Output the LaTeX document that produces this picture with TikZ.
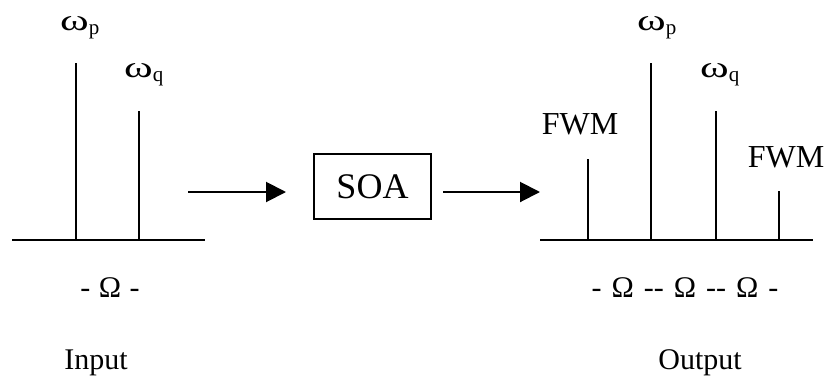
\documentclass[tikz,border=0pt]{standalone}
\usepackage{fontspec}
\setmainfont{Liberation Serif}
\usetikzlibrary{arrows.meta}
\newcommand{\bigom}{\scalebox{1.45}[1.0]{ω}}
\newcommand{\gp}{\hspace{10pt}}
\begin{document}
\begin{tikzpicture}[x=1pt,y=-1pt,
  axis/.style={line width=2.2pt},
  stem/.style={line width=2.4pt},
  lbl/.style={inner sep=0pt,font=\fontsize{30}{36}\selectfont},
  fwm/.style={inner sep=0pt,font=\fontsize{32}{38}\selectfont},
  omg/.style={inner sep=0pt,font=\fontsize{30}{36}\selectfont},
  flow/.style={line width=2pt,-{Triangle[length=20pt,width=20pt]}},
  box/.style={draw,line width=1.8pt,minimum width=117pt,minimum height=65pt,inner sep=0pt,font=\fontsize{36}{42}\selectfont}]
\useasboundingbox (0,0) rectangle (827,381);
% input spectrum
\draw[axis] (12,240) -- (205,240);
\draw[stem] (76,240) -- (76,63);
\draw[stem] (139,240) -- (139,111);
\node[omg] (ip) at (80,28) {\bigom\textsubscript{p}};
\node[omg] (iq) at (144,75) {\bigom\textsubscript{q}};
\node[lbl] (iom) at (110,288) {-\hspace{8.5pt}Ω\hspace{8.5pt}-};
\node[lbl] (in) at (96,363) {Input};
% SOA
\node[box] (soa) at (372.5,186.5) {SOA};
\coordinate (a1s) at (188,192);
\coordinate (a1e) at (286,192);
\coordinate (a2s) at (443,192);
\coordinate (a2e) at (540,192);
\draw[flow] (a1s) -- (a1e);
\draw[flow] (a2s) -- (a2e);
% output spectrum
\draw[axis] (540,240) -- (813,240);
\draw[stem] (588,240) -- (588,159);
\draw[stem] (651,240) -- (651,63);
\draw[stem] (716,240) -- (716,111);
\draw[stem] (779,240) -- (779,191);
\node[fwm] (f1) at (580,124) {FWM};
\node[fwm] (f2) at (786,157) {FWM};
\node[omg] (op) at (657,28) {\bigom\textsubscript{p}};
\node[omg] (oq) at (720,75) {\bigom\textsubscript{q}};
\node[lbl] (oom) at (685,288) {-\gp Ω\gp -{}-\gp Ω\gp -{}-\gp Ω\gp -};
\node[lbl] (out) at (700,363) {Output};
\end{tikzpicture}
\end{document}
